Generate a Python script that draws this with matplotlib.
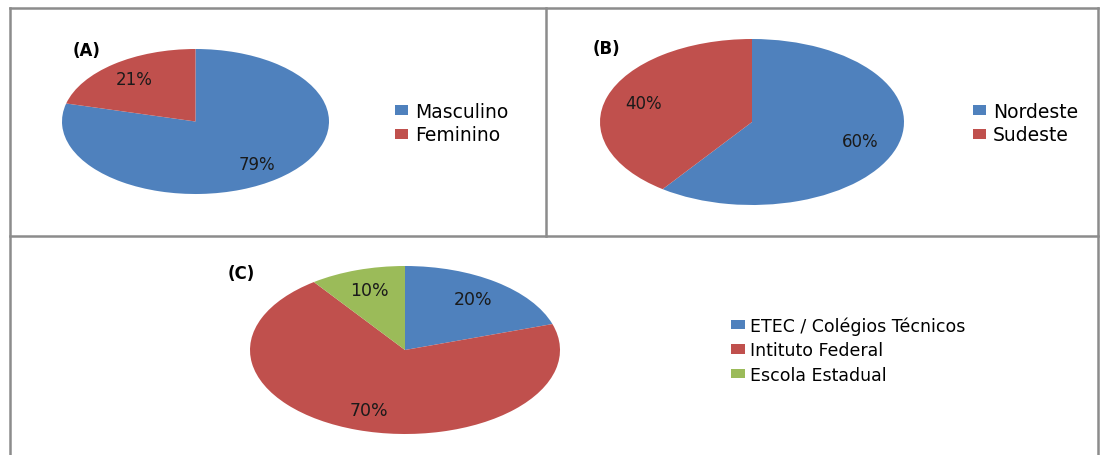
import matplotlib
matplotlib.use('Agg')
import matplotlib.pyplot as plt
from matplotlib.lines import Line2D

# data
sexo_labels = ['Masculino', 'Feminino']
sexo_values = [79, 21]
regiao_labels = ['Nordeste', 'Sudeste']
regiao_values = [60, 40]
escola_labels = ['ETEC / Colégios Técnicos', 'Intituto Federal', 'Escola Estadual']
escola_values = [20, 70, 10]

blue = '#4F81BD'
red = '#C0504D'
green = '#9BBB59'

W, H = 1105, 456
fig = plt.figure(figsize=(W / 100, H / 100), dpi=100)
fig.patch.set_facecolor('white')


def px_rect(left, top, right, bottom):
    # pixel box -> figure fraction rect
    return [left / W, 1 - bottom / H, (right - left) / W, (bottom - top) / H]


def draw_pie(box, values, colors, fs):
    ax = fig.add_axes(px_rect(*box))
    wedges, texts, autotexts = ax.pie(values, colors=colors, startangle=90, counterclock=False,
                                      radius=1, autopct='%d%%', pctdistance=0.75,
                                      wedgeprops=dict(linewidth=0),
                                      textprops=dict(fontsize=fs, color='#1a1a1a'))
    ax.set_xlim(-1, 1)
    ax.set_ylim(-1, 1)
    ax.set_aspect('auto')
    ax.axis('off')
    return wedges


# (A)
wa = draw_pie((62, 50, 329, 195), sexo_values, [blue, red], 12)
fig.text(73 / W, 1 - 51 / H, '(A)', fontsize=12, fontweight='bold', va='center', ha='left')
fig.legend(wa, sexo_labels, loc='center left', bbox_to_anchor=(395 / W, 1 - 124 / H),
           frameon=False, fontsize=13.5, handlelength=0.7, handleheight=0.45,
           handletextpad=0.35, labelspacing=0.25, borderpad=0, borderaxespad=0)

# (B)
wb = draw_pie((600, 40, 904, 206), regiao_values, [blue, red], 12)
fig.text(593 / W, 1 - 49 / H, '(B)', fontsize=12, fontweight='bold', va='center', ha='left')
fig.legend(wb, regiao_labels, loc='center left', bbox_to_anchor=(973 / W, 1 - 124 / H),
           frameon=False, fontsize=13.5, handlelength=0.7, handleheight=0.45,
           handletextpad=0.35, labelspacing=0.25, borderpad=0, borderaxespad=0)

# (C)
wc = draw_pie((250, 267, 560, 435), escola_values, [blue, red, green], 12.5)
fig.text(228 / W, 1 - 274 / H, '(C)', fontsize=12, fontweight='bold', va='center', ha='left')
fig.legend(wc, escola_labels, loc='center left', bbox_to_anchor=(731 / W, 1 - 351 / H),
           frameon=False, fontsize=12.5, handlelength=0.8, handleheight=0.45,
           handletextpad=0.3, labelspacing=0.38, borderpad=0, borderaxespad=0)

# panel borders
gray = '#8C8C8C'
for xs, ys in [([10, 1098], [9, 9]), ([10, 10], [9, 456]), ([1098, 1098], [9, 456]),
               ([546, 546], [9, 237]), ([10, 1098], [237, 237])]:
    fig.add_artist(Line2D([x / W for x in xs], [1 - y / H for y in ys],
                          color=gray, linewidth=1.8, transform=fig.transFigure))

fig.savefig('out.png', dpi=100)
